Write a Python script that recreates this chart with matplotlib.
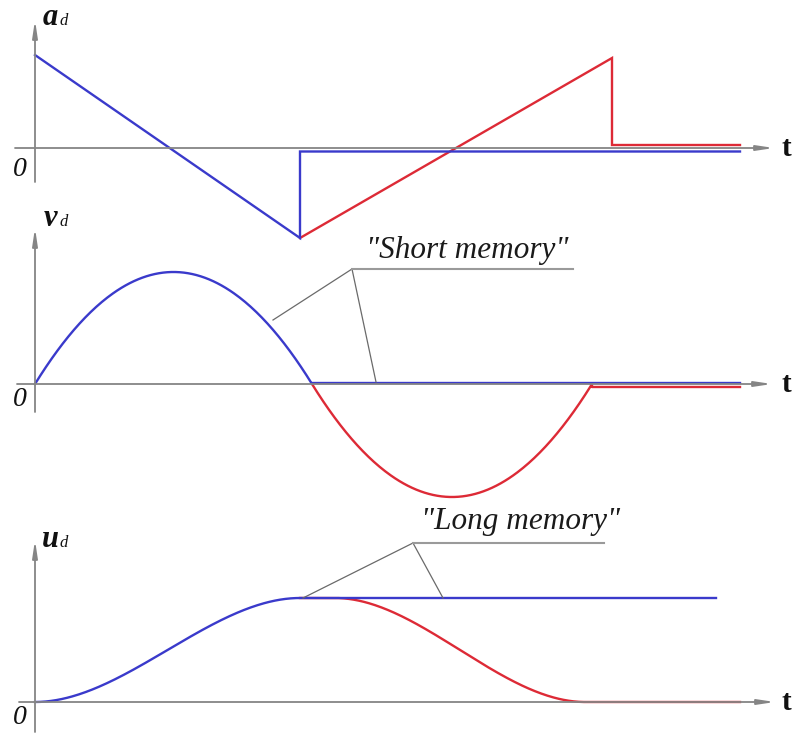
import numpy as np
import matplotlib
matplotlib.use("Agg")
import matplotlib.pyplot as plt

# ---- figure geometry (1 data unit = 1 pixel) ----
W, H, DPI = 795, 734, 100
T0_PX = 35            # pixel column of t = 0
PANEL_BASE = [148, 384, 702]   # pixel row of the zero line of each panel

BLUE = "#3a3acb"
RED = "#dd2a36"
AXIS = "#858585"
LEAD = "#6a6a6a"
SERIF = ["Liberation Serif", "DejaVu Serif"]

# ---- acceleration a_d(t): piecewise linear ----
acc_blue_t = [0, 265, 265, 705]
acc_blue = [93, -90, -3.5, -3.5]
acc_red_t = [265, 577, 577, 705]
acc_red = [-90, 90, 3, 3]

# ---- velocity v_d(t): parabolic arcs between zero crossings ----
vel_blue_span = [0, 277]
vel_blue_peak = 112
vel_blue_rest = [277, 705, 1.0]
vel_red_span = [277, 557]
vel_red_peak = -113
vel_red_rest = [557, 705, -3.0]

# ---- displacement u_d(t): smooth S-shaped transitions ----
disp_blue_span = [0, 265]
disp_level = 104
disp_blue_rest = [265, 681]
disp_red_span = [300, 550]
disp_red_end = 705

fig = plt.figure(figsize=(W / DPI, H / DPI), dpi=DPI)
fig.patch.set_facecolor("white")


def panel(base):
    ax = fig.add_axes([0, 0, 1, 1])
    ax.set_xlim(-T0_PX, W - T0_PX)
    ax.set_ylim(base - H, base)
    ax.axis("off")
    ax.patch.set_alpha(0)
    return ax


ARROW = dict(arrowstyle="-|>,head_length=1.0,head_width=0.15",
             color=AXIS, lw=1.3, shrinkA=0, shrinkB=0)


def axes_arrows(ax, base, y_top, y_bot, x_left, x_tip, ylabel, label_y):
    # vertical axis
    ax.annotate("", xy=(0, base - y_top), xytext=(0, base - y_bot),
                arrowprops=ARROW)
    # horizontal axis
    ax.annotate("", xy=(x_tip - T0_PX, 0), xytext=(x_left - T0_PX, 0),
                arrowprops=ARROW)
    ax.text(781 - T0_PX, -1, "t", fontsize=21, fontweight="bold",
            family=SERIF, ha="left", va="center", color="#111111")
    ax.text(-15, base - label_y[1], "0", fontsize=20, style="italic",
            family=SERIF, ha="center", va="center", color="#111111")
    sym, sub = ylabel
    ax.text(50 - T0_PX, base - label_y[0], sym, fontsize=22, style="italic",
            fontweight="bold", family=SERIF, ha="center", va="baseline",
            color="#111111")
    ax.text(60 - T0_PX, base - label_y[0], sub, fontsize=12, style="italic",
            family=SERIF, ha="left", va="baseline", color="#111111")


# ---------------- panel 1: acceleration ----------------
ax1 = panel(PANEL_BASE[0])
axes_arrows(ax1, PANEL_BASE[0], 20, 182, 15, 774, ("a", "d"), (25, 170))
ax1.plot(acc_red_t, acc_red, color=RED, lw=1.7, solid_joinstyle="miter")
ax1.plot(acc_blue_t, acc_blue, color=BLUE, lw=1.7, solid_joinstyle="miter")

# ---------------- panel 2: velocity ----------------
ax2 = panel(PANEL_BASE[1])
axes_arrows(ax2, PANEL_BASE[1], 228, 412, 17, 772, ("v", "d"), (226, 400))


def arc(span, peak, n=200):
    t = np.linspace(span[0], span[1], n)
    s = (t - span[0]) / (span[1] - span[0])
    return t, 4 * peak * s * (1 - s)


tr, vr = arc(vel_red_span, vel_red_peak)
ax2.plot(np.r_[tr, vel_red_rest[:2]], np.r_[vr, [vel_red_rest[2]] * 2],
         color=RED, lw=1.7)
tb, vb = arc(vel_blue_span, vel_blue_peak)
ax2.plot(np.r_[tb, vel_blue_rest[:2]], np.r_[vb, [vel_blue_rest[2]] * 2],
         color=BLUE, lw=1.7)

# "Short memory" callout
knot = (352 - T0_PX, PANEL_BASE[1] - 269)
ax2.plot([238, knot[0], 341], [64, knot[1], 2], color=LEAD, lw=0.9)
ax2.plot([knot[0], 573 - T0_PX], [knot[1], knot[1]], color="#9a9a9a", lw=1.5)
ax2.text(467 - T0_PX, PANEL_BASE[1] - 258, '"Short memory"', fontsize=22.5,
         style="italic", family=SERIF, ha="center", va="baseline",
         color="#1a1a1a")

# ---------------- panel 3: displacement ----------------
ax3 = panel(PANEL_BASE[2])
axes_arrows(ax3, PANEL_BASE[2], 540, 732, 19, 775, ("u", "d"), (547, 718))


def smooth(span, y0, y1, n=200):
    t = np.linspace(span[0], span[1], n)
    s = (t - span[0]) / (span[1] - span[0])
    return t, y0 + (y1 - y0) * (3 * s ** 2 - 2 * s ** 3)


tr, ur = smooth(disp_red_span, disp_level, 0)
ax3.plot(np.r_[disp_blue_span[1], tr, disp_red_end],
         np.r_[disp_level, ur, 0], color=RED, lw=1.7)
tb, ub = smooth(disp_blue_span, 0, disp_level)
ax3.plot(np.r_[tb, disp_blue_rest[1]], np.r_[ub, disp_level],
         color=BLUE, lw=1.7)

# "Long memory" callout
knot = (413 - T0_PX, PANEL_BASE[2] - 543)
ax3.plot([268, knot[0], 408], [disp_level, knot[1], disp_level],
         color=LEAD, lw=0.9)
ax3.plot([knot[0], 604 - T0_PX], [knot[1], knot[1]], color="#9a9a9a", lw=1.5)
ax3.text(521 - T0_PX, PANEL_BASE[2] - 529, '"Long memory"', fontsize=22.5,
         style="italic", family=SERIF, ha="center", va="baseline",
         color="#1a1a1a")

fig.savefig("out.png", dpi=DPI, facecolor="white")
